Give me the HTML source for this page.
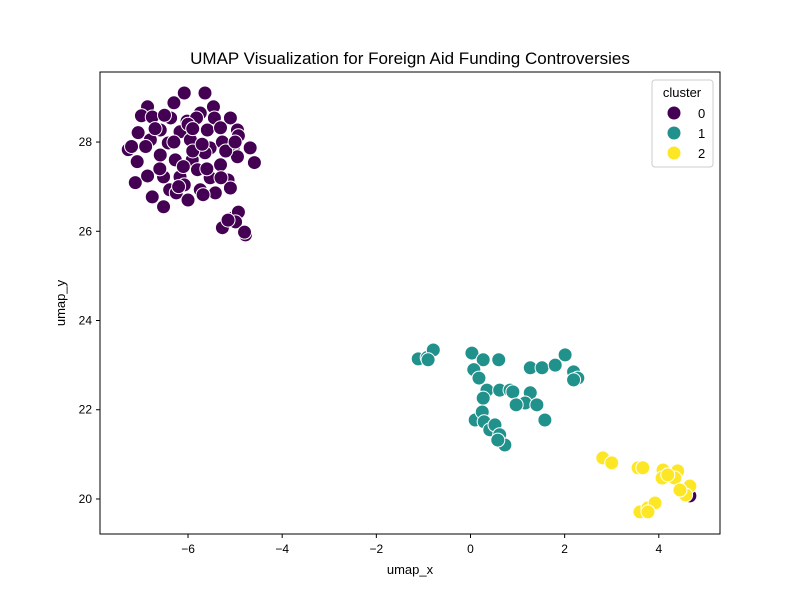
<!DOCTYPE html>
<html><head><meta charset="utf-8"><style>
body{margin:0;background:#fff}
svg text{font-family:"Liberation Sans","DejaVu Sans",sans-serif}
</style></head><body>
<svg id="chart" width="800" height="600">
<rect width="800" height="600" fill="#fff"/>
<text x="410" y="64" text-anchor="middle" font-size="17">UMAP Visualization for Foreign Aid Funding Controversies</text>
<g id="points"></g>
<rect x="100" y="72" width="620" height="462" fill="none" stroke="#000" stroke-width="1"/>
<g id="axes"></g>
<text x="410" y="574" text-anchor="middle" font-size="13">umap_x</text>
<text x="65" y="303" text-anchor="middle" font-size="13" transform="rotate(-90 65 303)">umap_y</text>
<g>
<rect x="652" y="80" width="61" height="87" rx="3" fill="#fff" fill-opacity="0.8" stroke="#ccc"/>
<text x="682" y="97" text-anchor="middle" font-size="13">cluster</text>
<circle cx="674" cy="113" r="6.5" fill="#440154"/>
<text x="698" y="118" font-size="13">0</text>
<circle cx="674" cy="133" r="6.5" fill="#21918c"/>
<text x="698" y="138" font-size="13">1</text>
<circle cx="674" cy="153" r="6.5" fill="#fde725"/>
<text x="698" y="158" font-size="13">2</text>
</g>
</svg>
<script>
const xTicks=[-6,-4,-2,0,2,4];
const yTicks=[20,22,24,26,28];
const c0x=[-5.64,-6.30,-6.08,-6.86,-6.99,-6.76,-6.37,-6.02,-5.74,-5.46,-5.10,-5.44,-5.82,-6.59,-6.17,-5.59,-5.31,-4.95,-7.06,-6.80,-6.42,-5.95,-5.53,-5.27,-4.93,-7.27,-7.08,-6.59,-6.27,-5.91,-5.64,-5.31,-5.04,-4.68,-4.59,-4.95,-7.12,-6.86,-6.52,-6.17,-5.80,-5.53,-5.15,-6.39,-6.08,-5.74,-5.42,-5.10,-6.76,-6.25,-6.52,-5.68,-6.00,-5.27,-5.04,-4.93,-4.99,-4.78,-6.30,-5.90,-6.60,-5.60,-6.90,-5.20,-6.00,-6.50,-5.30,-6.20,-5.90,-6.70,-7.20,-5.00,-5.70,-6.10,-5.15,-4.80,4.66];
const c0y=[29.10,28.88,29.10,28.79,28.59,28.56,28.54,28.47,28.65,28.79,28.54,28.54,28.54,28.27,28.23,28.27,28.32,28.27,28.21,28.05,27.98,28.05,27.87,28.00,28.14,27.83,27.56,27.71,27.60,27.60,27.76,27.49,27.87,27.87,27.54,27.67,27.09,27.24,27.22,27.22,27.38,27.20,27.15,26.93,27.04,26.93,26.86,26.97,26.77,26.86,26.55,26.82,26.70,26.08,26.30,26.43,26.21,25.92,28.00,27.80,27.40,27.40,27.90,27.80,28.40,28.60,27.20,27.00,28.30,28.30,27.90,28.00,27.95,27.45,26.25,25.98,20.07];
const c1x=[-1.11,-0.92,-0.79,-0.90,0.03,0.27,0.07,0.18,0.60,1.27,1.52,1.80,2.01,2.19,2.28,2.19,0.35,0.27,0.62,0.84,0.90,1.27,1.16,1.41,0.97,1.58,0.10,0.25,0.29,0.41,0.52,0.62,0.73,0.58];
const c1y=[23.14,23.17,23.34,23.12,23.27,23.12,22.90,22.71,23.12,22.94,22.94,23.00,23.23,22.85,22.71,22.67,22.44,22.26,22.44,22.44,22.40,22.38,22.15,22.11,22.11,21.77,21.77,21.95,21.73,21.55,21.66,21.44,21.21,21.32];
const c2x=[2.81,3.00,3.56,3.66,4.09,4.40,4.07,4.34,4.19,4.51,4.66,4.57,4.45,3.60,3.77,3.92,3.77];
const c2y=[20.92,20.81,20.70,20.70,20.65,20.63,20.47,20.47,20.54,20.16,20.29,20.09,20.20,19.71,19.80,19.91,19.71];
const X0=-7.87,X1=5.30,Y0=19.215,Y1=29.57;
const sx=v=>100+(v-X0)/(X1-X0)*620;
const sy=v=>534-(v-Y0)/(Y1-Y0)*462;
const NS='http://www.w3.org/2000/svg';
const pg=document.getElementById('points');
function draw(xs,ys,col,k){
 xs.forEach((v,i)=>{
  const c=document.createElementNS(NS,'circle');
  c.setAttribute('cx',sx(v));c.setAttribute('cy',sy(ys[i]));c.setAttribute('r',7);
  c.setAttribute('fill',col);c.setAttribute('stroke','#fff');c.setAttribute('stroke-width',1);
  
  
  pg.appendChild(c);
 });
}
draw(c0x,c0y,'#440154',0);draw(c1x,c1y,'#21918c',1);draw(c2x,c2y,'#fde725',2);
const ax=document.getElementById('axes');
xTicks.forEach(t=>{
 const x=sx(t);
 const l=document.createElementNS(NS,'line');
 l.setAttribute('x1',x);l.setAttribute('x2',x);l.setAttribute('y1',534);l.setAttribute('y2',538);l.setAttribute('stroke','#000');
 
 
 ax.appendChild(l);
 const tx=document.createElementNS(NS,'text');
 tx.setAttribute('x',x);tx.setAttribute('y',553);tx.setAttribute('text-anchor','middle');tx.setAttribute('font-size','12');
 tx.textContent=(t<0?'\u2212'+(-t):t);
 
 
 ax.appendChild(tx);
});
yTicks.forEach(t=>{
 const y=sy(t);
 const l=document.createElementNS(NS,'line');
 l.setAttribute('x1',96);l.setAttribute('x2',100);l.setAttribute('y1',y);l.setAttribute('y2',y);l.setAttribute('stroke','#000');
 
 
 ax.appendChild(l);
 const tx=document.createElementNS(NS,'text');
 tx.setAttribute('x',92);tx.setAttribute('y',y+4);tx.setAttribute('text-anchor','end');tx.setAttribute('font-size','12');
 tx.textContent=t;
 
 
 ax.appendChild(tx);
});
</script>
</body></html>
